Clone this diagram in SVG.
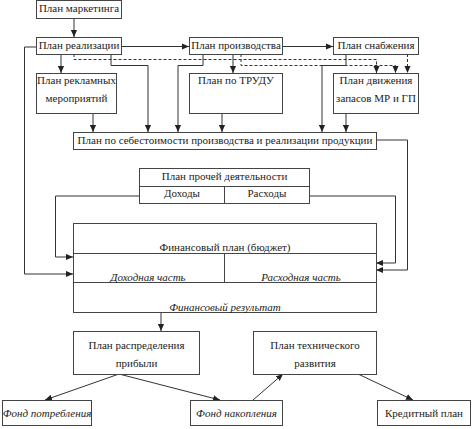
<svg xmlns="http://www.w3.org/2000/svg" width="474" height="429" viewBox="0 0 474 429">
<style>
rect{fill:#fff;stroke:#444;stroke-width:1}
.sep{stroke:#444;stroke-width:1;fill:none}
text{font-family:'Liberation Serif','Times New Roman',serif;font-size:11px;fill:#222;text-anchor:middle}
.i{font-style:italic}
.c{fill:none;stroke:#333;stroke-width:1}
.d{stroke-dasharray:3,2}
</style>
<defs>
<marker id="a" viewBox="0 0 8 8" refX="8" refY="4" markerWidth="7" markerHeight="7" markerUnits="userSpaceOnUse" orient="auto">
<path d="M0,0.5 L8,4 L0,7.5 z" fill="#222"/>
</marker>
</defs>
<rect x="0" y="0" width="474" height="429" style="stroke:none"/>
<g id="connectors">
<path class="c" d="M74,18 V37" marker-end="url(#a)"/>
<path class="c" d="M121,46.5 H189" marker-end="url(#a)"/>
<path class="c" d="M282,46.5 H333" marker-end="url(#a)"/>
<path class="c" d="M61,54 V73" marker-end="url(#a)"/>
<path class="c" d="M233,54 V73" marker-end="url(#a)"/>
<path class="c d" d="M74,54 V59.5 H376.5 V73" marker-end="url(#a)"/>
<path class="c d" d="M241,54 V65.5 H395.5 V73" marker-end="url(#a)"/>
<path class="c d" d="M407.5,54 V73" marker-end="url(#a)"/>
<path class="c" d="M111,54 V65.5 H148 V132" marker-end="url(#a)"/>
<path class="c" d="M203,54 V65.5 H178 V132" marker-end="url(#a)"/>
<path class="c" d="M346,54 V65.5 H322 V132" marker-end="url(#a)"/>
<path class="c" d="M93,113 V132" marker-end="url(#a)"/>
<path class="c" d="M222,113 V132" marker-end="url(#a)"/>
<path class="c" d="M346,113 V132" marker-end="url(#a)"/>
<path class="c" d="M36,47 H24.5 V274 H73" marker-end="url(#a)"/>
<path class="c" d="M139,196 H55.5 V257 H73" marker-end="url(#a)"/>
<path class="c" d="M309,196 H395.5 V263 H376" marker-end="url(#a)"/>
<path class="c" d="M376,140 H407.5 V270 H376" marker-end="url(#a)"/>
<path class="c" d="M161,312 V331" marker-end="url(#a)"/>
<path class="c" d="M119,374 L45,400" marker-end="url(#a)"/>
<path class="c" d="M119,374 L220,400" marker-end="url(#a)"/>
<path class="c" d="M253,400 L283,374" marker-end="url(#a)"/>
<path class="c" d="M358,374 L413,400" marker-end="url(#a)"/>
</g>
<g id="marketing">
<rect x="36.5" y="0.5" width="85" height="18"/>
<text x="79" y="12">План маркетинга</text>
</g>
<g id="realization">
<rect x="36.5" y="37.5" width="85" height="17"/>
<text x="79" y="49">План реализации</text>
</g>
<g id="production">
<rect x="189.5" y="37.5" width="93" height="17"/>
<text x="236" y="49">План производства</text>
</g>
<g id="supply">
<rect x="333.5" y="37.5" width="85" height="17"/>
<text x="376" y="49">План снабжения</text>
</g>
<g id="advert">
<rect x="36.5" y="73.5" width="80" height="40"/>
<text x="76.5" y="84">План рекламных</text>
<text x="76.5" y="102">мероприятий</text>
</g>
<g id="labor">
<rect x="189.5" y="73.5" width="93" height="40"/>
<text x="236" y="84">План по ТРУДУ</text>
</g>
<g id="stock">
<rect x="333.5" y="73.5" width="85" height="40"/>
<text x="376" y="84">План движения</text>
<text x="376" y="102">запасов МР и ГП</text>
</g>
<g id="cost">
<rect x="73.5" y="132.5" width="303" height="17"/>
<text x="225" y="144">План по себестоимости производства и реализации продукции</text>
</g>
<g id="other">
<rect x="139.5" y="168.5" width="170" height="35"/>
<path class="sep" d="M139.5,186.5 H309.5 M224.5,186.5 V203.5"/>
<text x="224.5" y="180">План прочей деятельности</text>
<text x="182" y="197">Доходы</text>
<text x="267" y="197">Расходы</text>
</g>
<g id="finplan">
<rect x="73.5" y="223.5" width="303" height="89"/>
<path class="sep" d="M73.5,253.5 H376.5 M73.5,282.5 H376.5 M224.5,253.5 V282.5"/>
<text x="225" y="251">Финансовый план (бюджет)</text>
<text class="i" x="148" y="281">Доходная часть</text>
<text class="i" x="301" y="281">Расходная часть</text>
<text class="i" x="225" y="311">Финансовый результат</text>
</g>
<g id="profit">
<rect x="73.5" y="331.5" width="126" height="43"/>
<text x="136.5" y="349">План распределения</text>
<text x="136.5" y="367">прибыли</text>
</g>
<g id="tech">
<rect x="253.5" y="331.5" width="123" height="43"/>
<text x="315" y="349">План технического</text>
<text x="315" y="367">развития</text>
</g>
<g id="consumption">
<rect x="2.5" y="400.5" width="89" height="25"/>
<text class="i" x="47" y="417">Фонд потребления</text>
</g>
<g id="accumulation">
<rect x="190.5" y="400.5" width="92" height="25"/>
<text class="i" x="236.5" y="417">Фонд накопления</text>
</g>
<g id="credit">
<rect x="377.5" y="400.5" width="93" height="25"/>
<text x="424" y="417">Кредитный план</text>
</g>
</svg>
